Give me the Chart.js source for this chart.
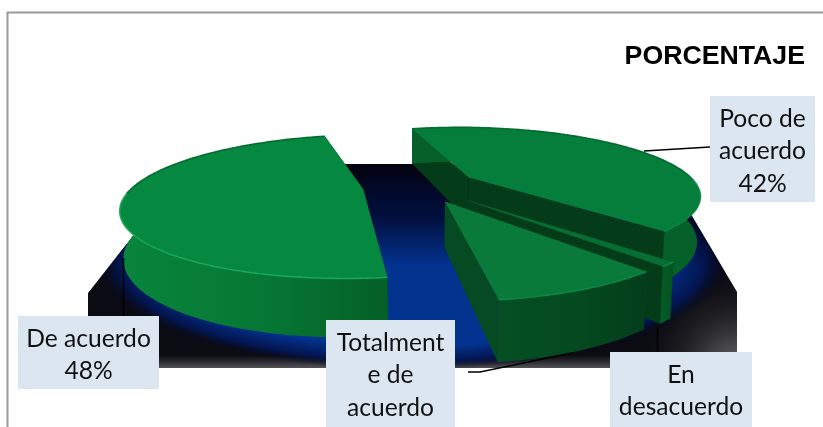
<!DOCTYPE html>
<html><head><meta charset="utf-8">
<style>html,body{margin:0;padding:0;background:#fff}canvas{display:block}</style>
<script src="https://cdn.jsdelivr.net/npm/chart.js@4"></script>
</head><body>
<canvas id="c" width="823" height="427"></canvas>
<script>
const categories = ['De acuerdo','Poco de acuerdo','En desacuerdo','Totalmente de acuerdo'];
const values = [48,42,1,9];
const titleText = 'PORCENTAJE';
const labelLines = [['De acuerdo','48%'],['Poco de','acuerdo','42%'],['En','desacuerdo'],['Totalment','e de','acuerdo']];

// styling / layout only
const LABEL_BOX = [[18,316,141,73],[710,96,105,106],[610,352,142,75],[326,320,129,107]];
const LEADERS = [[[123.5,258],[123.5,316]],[[644,151],[710,147]],[[657.5,327],[657.5,352]],[[572,353],[480,372],[468,372]]];
const TOP_COL = ['#05883f','#067e3b','#076f33','#0a7a3a'];
const WALL_COL = [
  [[0,'#08853c'],[.55,'#067734'],[.8,'#056a2c'],[1,'#056027']],
  [[0,'#05602a'],[1,'#05602a']],
  [[0,'#055a26'],[1,'#05521f']],
  [[0,'#044f24'],[.6,'#04481f'],[1,'#043d1a']]
];
const SIDE_COL = ['#045a26','#043c1a','#043c1a','#054a22'];
const P = {A:229,B:65.9,k:.243,D:44,shrink:.012};

function project(el,X,Y,z){
  const den = 1 - P.k*Y;
  return [el.x + P.A*X/den*(1-z*P.shrink), el.y + P.B*Y/den + z*P.D/den];
}
function sliceGeom(el){
  const d = el.options.offset/el.outerRadius;
  const mid = (el.startAngle+el.endAngle)/2;
  const ox = d*Math.cos(mid), oy = d*Math.sin(mid);
  const n = Math.max(4,Math.ceil((el.endAngle-el.startAngle)*40));
  const pl = [];
  for(let i=0;i<=n;i++){ const t = el.startAngle+(el.endAngle-el.startAngle)*i/n;
    pl.push([ox+Math.cos(t),oy+Math.sin(t)]); }
  return {ox,oy,pl};
}
function poly(ctx,pts,fill){
  ctx.beginPath(); pts.forEach((p,i)=>i?ctx.lineTo(p[0],p[1]):ctx.moveTo(p[0],p[1]));
  ctx.closePath(); ctx.fillStyle=fill; ctx.fill();
}
const pie3d = {
  id:'pie3d',
  beforeDatasetsDraw(chart){
    const ctx = chart.ctx; ctx.save();
    // frame
    ctx.strokeStyle='#999'; ctx.lineWidth=2;
    ctx.beginPath(); ctx.moveTo(7.5,427); ctx.lineTo(7.5,12.5); ctx.lineTo(823,12.5); ctx.stroke();
    // floor
    ctx.beginPath();
    [[88,293],[122,250],[192,164],[661,164],[737,292],[737,368],[88,368]].forEach((p,i)=>i?ctx.lineTo(p[0],p[1]):ctx.moveTo(p[0],p[1]));
    ctx.closePath(); ctx.clip();
    ctx.fillStyle='#0b0b12'; ctx.fillRect(80,160,670,210);
    let g = ctx.createLinearGradient(0,355,0,368);
    g.addColorStop(0,'rgba(70,70,75,0)'); g.addColorStop(1,'rgba(90,90,95,.9)');
    ctx.fillStyle=g; ctx.fillRect(80,355,670,13);
    g = ctx.createRadialGradient(737,368,0,737,368,95);
    g.addColorStop(0,'rgba(110,110,110,1)'); g.addColorStop(1,'rgba(30,30,30,0)');
    ctx.fillStyle=g; ctx.fillRect(640,270,100,100);
    ctx.save(); ctx.translate(412,262); ctx.scale(1,.34);
    g = ctx.createRadialGradient(0,0,0,0,0,318);
    g.addColorStop(0,'#02338f'); g.addColorStop(.78,'#02338f'); g.addColorStop(.92,'#031550'); g.addColorStop(1,'rgba(6,8,30,0)');
    ctx.fillStyle=g; ctx.fillRect(-340,-320,680,640);
    ctx.restore();
    g = ctx.createLinearGradient(0,164,0,265);
    g.addColorStop(0,'rgba(3,3,14,1)'); g.addColorStop(.55,'rgba(2,8,45,.8)'); g.addColorStop(1,'rgba(2,8,45,0)');
    ctx.fillStyle=g; ctx.fillRect(80,160,670,105);
    ctx.restore();
  },
  beforeDatasetDraw(chart){
    const ctx = chart.ctx, arcs = chart.getDatasetMeta(0).data;
    const order = arcs.map((el,i)=>({el,i,g:sliceGeom(el)})).sort((a,b)=>a.g.oy-b.g.oy);
    ctx.save();
    for(const {el,i,g} of order){
      const a = project(el,g.ox,g.oy,0), a2 = project(el,g.ox,g.oy,1);
      const top = g.pl.map(p=>project(el,p[0],p[1],0));
      const bot = g.pl.map(p=>project(el,p[0],p[1],1));
      const s=top[0], s2=bot[0], e=top[top.length-1], e2=bot[bot.length-1];
      poly(ctx,[a,s,s2,a2],SIDE_COL[i]);
      poly(ctx,[a,e,e2,a2],SIDE_COL[i]);
      const xs = top.map(p=>p[0]);
      const lg = ctx.createLinearGradient(Math.min(...xs),0,Math.max(...xs),0);
      WALL_COL[i].forEach(c=>lg.addColorStop(c[0],c[1]));
      poly(ctx,top.concat(bot.slice().reverse()),lg);
      poly(ctx,[a].concat(top),TOP_COL[i]);
      // rim
      ctx.lineWidth=1.6; ctx.lineJoin='round';
      for(let j=1;j<top.length;j++){
        const near = g.pl[j][1]-g.oy>0.05;
        ctx.strokeStyle = near ? (i===0?'#1aa85a':'#0c8744') : '#056a30';
        ctx.beginPath(); ctx.moveTo(top[j-1][0],top[j-1][1]); ctx.lineTo(top[j][0],top[j][1]); ctx.stroke();
      }
    }
    ctx.restore();
    return false;
  },
  afterDatasetsDraw(chart){
    const ctx = chart.ctx; ctx.save();
    ctx.strokeStyle='#000'; ctx.lineWidth=1.5;
    LEADERS.forEach(l=>{ctx.beginPath();l.forEach((p,i)=>i?ctx.lineTo(p[0],p[1]):ctx.moveTo(p[0],p[1]));ctx.stroke();});
    ctx.font='24.6px Lato'; ctx.textAlign='center'; ctx.textBaseline='middle';
    LABEL_BOX.forEach((b,i)=>{
      ctx.fillStyle='#dce6f1'; ctx.fillRect(b[0],b[1],b[2],b[3]);
      ctx.fillStyle='#111';
      labelLines[i].forEach((t,j)=>ctx.fillText(t,b[0]+b[2]/2,b[1]+23+j*32.3));
    });
    ctx.restore();
  }
};
new Chart(document.getElementById('c'),{
  type:'pie',
  data:{labels:categories,datasets:[{data:values,offset:21.5,borderWidth:0,backgroundColor:TOP_COL}]},
  plugins:[pie3d],
  options:{
    responsive:false,animation:false,rotation:172,
    layout:{padding:{left:35,right:18,top:29,bottom:145}},
    plugins:{legend:{display:false},tooltip:{enabled:false},
      title:{display:true,text:titleText,align:'end',color:'#000',
        font:{family:'"Liberation Sans"',size:26.7,weight:'bold',lineHeight:1.2},padding:{top:12,bottom:16}}}
  }
});
</script>
</body></html>
